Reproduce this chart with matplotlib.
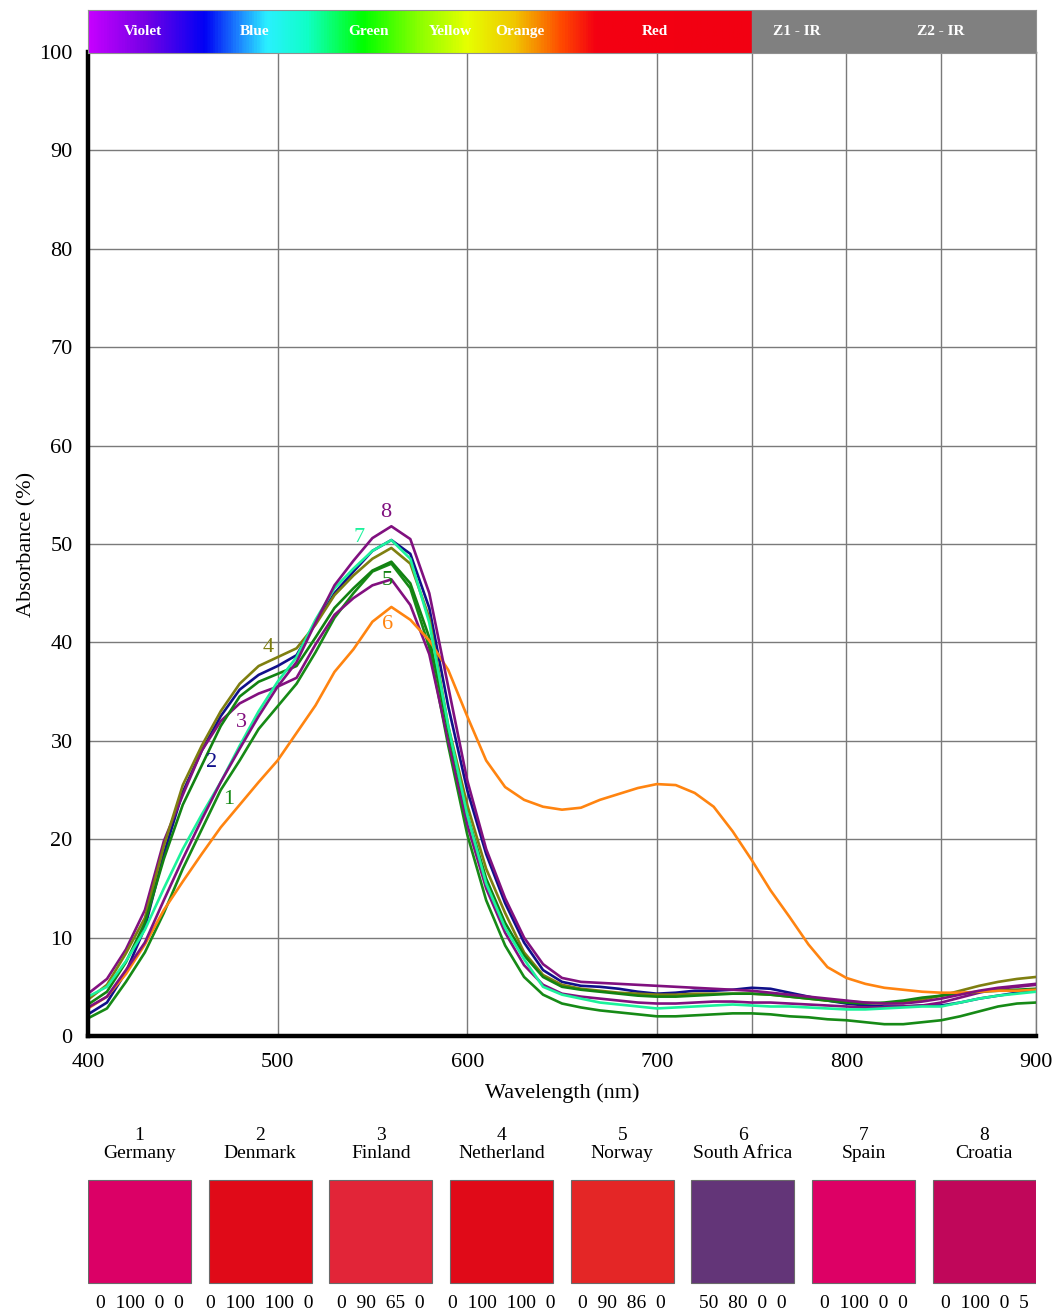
import numpy as np
import matplotlib.pyplot as plt
from matplotlib.colors import LinearSegmentedColormap
from matplotlib.patches import Rectangle

plt.rcParams["font.family"] = ["Liberation Serif", "DejaVu Serif"]

# ---- data -------------------------------------------------------------
wavelength = list(range(400, 901, 10))

germany = [
    1.8, 2.8, 5.5, 8.5, 12.5, 17.0, 21.0, 25.0, 28.0, 31.2,
    33.5, 35.8, 39.0, 42.5, 45.0, 47.2, 48.0, 45.5, 39.5, 29.5,
    20.5, 13.8, 9.2, 6.0, 4.2, 3.3, 2.9, 2.6, 2.4, 2.2,
    2.0, 2.0, 2.1, 2.2, 2.3, 2.3, 2.2, 2.0, 1.9, 1.7,
    1.6, 1.4, 1.2, 1.2, 1.4, 1.6, 2.0, 2.5, 3.0, 3.3, 3.4,
]
denmark = [
    2.2, 3.4, 6.5, 11.0, 18.5, 24.8, 29.0, 32.5, 35.2, 36.7,
    37.6, 38.7, 42.0, 45.0, 47.2, 49.3, 50.4, 49.0, 43.5, 33.5,
    25.0, 18.5, 13.5, 9.5, 6.7, 5.5, 5.1, 5.0, 4.8, 4.5,
    4.3, 4.4, 4.6, 4.6, 4.7, 4.9, 4.8, 4.4, 4.0, 3.6,
    3.3, 3.1, 3.0, 3.0, 3.1, 3.1, 3.4, 3.8, 4.1, 4.4, 4.7,
]
finland = [
    4.3, 5.8, 8.8, 12.8, 19.8, 24.5, 29.0, 32.0, 33.8, 34.8,
    35.5, 36.4, 39.8, 42.8, 44.5, 45.8, 46.4, 43.8, 38.8, 30.0,
    21.5, 15.0, 10.5, 7.2, 5.2, 4.3, 4.0, 3.8, 3.6, 3.4,
    3.3, 3.3, 3.4, 3.5, 3.5, 3.4, 3.4, 3.3, 3.2, 3.1,
    3.0, 2.9, 2.9, 3.0, 3.1, 3.4, 3.9, 4.4, 4.8, 5.0, 5.2,
]
netherland = [
    3.7, 5.2, 8.4, 12.0, 19.3, 25.5, 29.5, 33.0, 35.8, 37.6,
    38.5, 39.4, 41.8, 44.8, 46.8, 48.5, 49.6, 48.0, 42.5, 31.5,
    23.5, 17.0, 12.5, 8.5, 6.2, 5.2, 4.8, 4.6, 4.4, 4.3,
    4.2, 4.2, 4.3, 4.3, 4.3, 4.3, 4.2, 4.0, 3.8, 3.6,
    3.5, 3.4, 3.3, 3.4, 3.7, 4.1, 4.6, 5.1, 5.5, 5.8, 6.0,
]
norway = [
    3.2, 4.5, 7.5, 11.5, 18.0, 23.5, 27.5, 31.5, 34.5, 36.0,
    36.8, 37.6, 40.5, 43.5, 45.5, 47.3, 48.2, 46.0, 40.5, 31.0,
    22.5, 16.0, 11.5, 8.2, 6.0, 5.0, 4.7, 4.5, 4.3, 4.1,
    4.0, 4.0, 4.1, 4.2, 4.3, 4.3, 4.2, 4.0, 3.8, 3.6,
    3.4, 3.3, 3.4, 3.6, 3.9, 4.1, 4.3, 4.5, 4.6, 4.7, 4.8,
]
south_africa = [
    2.8, 4.0, 6.3, 9.3, 12.8, 15.7, 18.5, 21.2, 23.5, 25.8,
    28.0, 30.8, 33.6, 37.0, 39.3, 42.1, 43.6, 42.3, 40.2, 37.2,
    32.5, 28.0, 25.3, 24.0, 23.3, 23.0, 23.2, 24.0, 24.6, 25.2,
    25.6, 25.5, 24.7, 23.3, 20.8, 17.9, 14.8, 12.1, 9.3, 7.0,
    5.9, 5.3, 4.9, 4.7, 4.5, 4.4, 4.4, 4.5, 4.6, 4.6, 4.7,
]
spain = [
    4.0, 5.0, 7.6, 10.8, 15.0, 19.0, 22.5, 25.8, 29.5, 33.0,
    36.0, 38.5, 42.3, 45.5, 47.5, 49.3, 50.4, 48.5, 42.0, 31.5,
    22.5, 15.5, 11.0, 7.8, 5.0, 4.2, 3.8, 3.4, 3.2, 3.0,
    2.8, 2.9, 3.0, 3.1, 3.2, 3.1, 3.0, 3.0, 2.9, 2.8,
    2.7, 2.7, 2.8, 2.9, 3.0, 3.0, 3.4, 3.8, 4.1, 4.3, 4.5,
]
croatia = [
    2.9, 4.0, 6.7, 9.5, 13.8, 18.0, 22.0, 25.8, 29.2, 32.5,
    35.5, 38.0, 42.0, 45.8, 48.3, 50.6, 51.8, 50.5, 45.0, 35.5,
    26.0, 19.0, 14.0, 10.0, 7.3, 5.9, 5.5, 5.4, 5.3, 5.2,
    5.1, 5.0, 4.9, 4.8, 4.7, 4.6, 4.4, 4.2, 4.0, 3.8,
    3.6, 3.4, 3.3, 3.3, 3.5, 3.8, 4.2, 4.6, 4.9, 5.1, 5.3,
]

countries = ["Germany", "Denmark", "Finland", "Netherland",
             "Norway", "South Africa", "Spain", "Croatia"]
series = [germany, denmark, finland, netherland,
          norway, south_africa, spain, croatia]
line_colors = ["#168A16", "#10108A", "#82107F", "#7F7F10",
               "#128212", "#FF8410", "#1CF29C", "#80107F"]
# curve number labels (wavelength, absorbance)
label_x = [474, 465, 481, 495, 558, 558, 543, 557]
label_y = [24.0, 27.8, 31.9, 39.5, 46.3, 41.8, 50.7, 53.2]

swatch_colors = ["#DB0066", "#E00A18", "#E22538", "#E00A18",
                 "#E42626", "#633578", "#DD0065", "#C0075A"]
cmyk_labels = ["0  100  0  0", "0  100  100  0", "0  90  65  0",
               "0  100  100  0", "0  90  86  0", "50  80  0  0",
               "0  100  0  0", "0  100  0  5"]

band_names = ["Violet", "Blue", "Green", "Yellow", "Orange", "Red",
              "Z1 - IR", "Z2 - IR"]
band_x = [429, 488, 548, 591, 628, 699, 774, 850]

spectrum_stops = [
    (400, "#C600FF"), (430, "#7400E6"), (461, "#0000F5"),
    (480, "#1E8CFF"), (494, "#2AF0FF"), (515, "#10FFC8"),
    (545, "#00FF00"), (575, "#8CFF00"), (600, "#E6FF00"),
    (625, "#F0C800"), (650, "#FF4A00"), (668, "#F40012"),
    (750, "#F20012"),
]

# ---- figure ------------------------------------------------------------
W, H = 1059, 1313
fig = plt.figure(figsize=(W / 100, H / 100), dpi=100)

ax = fig.add_axes([88 / W, 277 / H, 948 / W, 984 / H])

for values, color in zip(series, line_colors):
    ax.plot(wavelength, values, color=color, lw=1.9, zorder=3,
            solid_joinstyle="round")

for i in range(len(series)):
    ax.text(
        label_x[i], label_y[i], str(i + 1),
        color=line_colors[i], fontsize=16,
        ha="center", va="center", zorder=4,
    )

ax.set_xlim(400, 900)
ax.set_ylim(0, 100)
ax.set_xticks(range(400, 901, 100))
ax.set_xticks([750, 850], minor=True)
ax.set_yticks(range(0, 101, 10))
ax.grid(True, which="both", color="#7a7a7a", lw=1.0, zorder=1)
ax.tick_params(axis="both", which="both", length=0, labelsize=16)
ax.tick_params(axis="x", pad=12)
ax.tick_params(axis="y", pad=11)
for side in ["left", "bottom"]:
    ax.spines[side].set_linewidth(3.2)
    ax.spines[side].set_color("black")
    ax.spines[side].set_zorder(5)
for side in ["top", "right"]:
    ax.spines[side].set_linewidth(1.0)
    ax.spines[side].set_color("#7a7a7a")
ax.set_xlabel("Wavelength (nm)", fontsize=16, labelpad=8)
ax.set_ylabel("Absorbance (%)", fontsize=16, labelpad=2)

# ---- spectrum band on top ---------------------------------------------
ax_bar = fig.add_axes([88 / W, (H - 53) / H, 948 / W, 43 / H])
stop_pos = [(s[0] - 400) / 350 for s in spectrum_stops]
spec_cmap = LinearSegmentedColormap.from_list(
    "spectrum", list(zip(stop_pos, [s[1] for s in spectrum_stops]))
)
ax_bar.imshow(
    np.linspace(0, 1, 700)[None, :],
    extent=(400, 750, 0, 1), aspect="auto", cmap=spec_cmap,
)
ax_bar.add_patch(Rectangle((750, 0), 150, 1, color="#808080"))
for name, xpos in zip(band_names, band_x):
    ax_bar.text(
        xpos, 0.5, name, color="white", fontsize=11,
        fontweight="bold", ha="center", va="center",
    )
ax_bar.set_xlim(400, 900)
ax_bar.set_ylim(0, 1)
ax_bar.set_xticks([])
ax_bar.set_yticks([])
for side in ax_bar.spines.values():
    side.set_color("#909090")
    side.set_linewidth(0.8)

# ---- colour swatches ----------------------------------------------------
ax_sw = fig.add_axes([88 / W, 0, 948 / W, 193 / H])
ax_sw.set_xlim(0, 948)
ax_sw.set_ylim(193, 0)
ax_sw.axis("off")
pitch = 120.7
size = 103
for i, name in enumerate(countries):
    x0 = i * pitch
    cx = x0 + size / 2
    ax_sw.add_patch(Rectangle(
        (x0, 60), size, size,
        facecolor=swatch_colors[i], edgecolor="#6a6a6a", lw=0.8,
    ))
    ax_sw.text(cx, 15, str(i + 1), fontsize=14, ha="center", va="center")
    ax_sw.text(cx, 34, name, fontsize=14, ha="center", va="center")
    ax_sw.text(cx, 183, cmyk_labels[i], fontsize=14, ha="center", va="center")

fig.savefig("out.png", dpi=100)
